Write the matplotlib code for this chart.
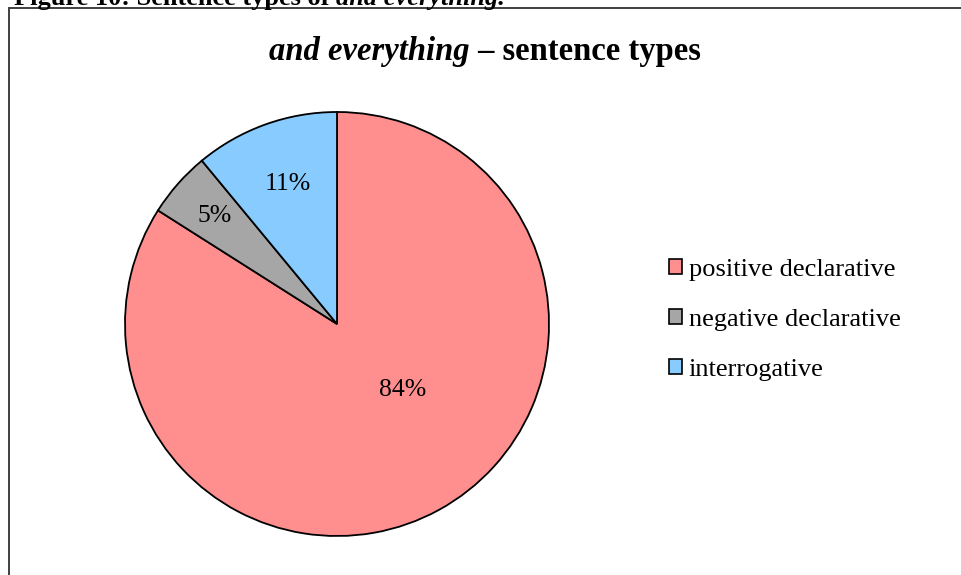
import numpy as np
import matplotlib
matplotlib.use("Agg")
import matplotlib.pyplot as plt
from matplotlib.patches import Rectangle, Patch

plt.rcParams["font.family"] = ["Liberation Serif", "DejaVu Serif"]

categories = ["positive declarative", "negative declarative", "interrogative"]
shares = [84, 5, 11]
colors = ["#FF8F8F", "#A6A6A6", "#87CBFF"]
# label placement per wedge: (distance from centre, angular shift in degrees)
label_place = [(0.44, 16.0), (0.77, 0.0), (0.70, -0.5)]

W, H = 961, 575
fig = plt.figure(figsize=(W / 100, H / 100), dpi=100)

# chart frame (extends past right and bottom edges)
fig.patches.append(Rectangle((9 / W, -0.1), 1.2, (H - 8) / H + 0.1,
                             transform=fig.transFigure, fill=False,
                             edgecolor="#404040", linewidth=1.4))

# caption above the frame, partly cut off
cap1 = fig.text(14 / W, 1 - 5 / H, "Figure 10: Sentence types of ", fontsize=19,
                fontweight="bold", va="baseline", ha="left")
fig.canvas.draw()
r = fig.canvas.get_renderer()
bb = cap1.get_window_extent(r)
fig.text(bb.x1 / W, 1 - 5 / H, "and everything.", fontsize=19, fontweight="bold",
         style="italic", va="baseline", ha="left")

# title: italic phrase followed by bold description, centred
t1 = fig.text(0, 1 - 60 / H, "and everything", fontsize=23.5, fontweight="bold",
              style="italic", va="baseline", ha="left")
t2 = fig.text(0, 1 - 60 / H, " \u2013 sentence types", fontsize=23.5,
              fontweight="bold", va="baseline", ha="left")
fig.canvas.draw()
w1 = t1.get_window_extent(r).width
w2 = t2.get_window_extent(r).width
x0 = 485 - (w1 + w2) / 2
t1.set_x(x0 / W)
t2.set_x((x0 + w1) / W)

# pie axes: centre (337, 324) px, radius 212 px
R = 212
cx, cy = 337, H - 324
lim = 1.2
side = 2 * lim * R
ax = fig.add_axes([(cx - side / 2) / W, (cy - side / 2) / H, side / W, side / H])
wedges, _ = ax.pie(shares, colors=colors, startangle=90, counterclock=False,
                   wedgeprops=dict(edgecolor="black", linewidth=1.3))
ax.set_xlim(-lim, lim)
ax.set_ylim(-lim, lim)
ax.set_aspect("equal")
ax.axis("off")

for w, val, (d, shift) in zip(wedges, shares, label_place):
    ang = np.deg2rad((w.theta1 + w.theta2) / 2 + shift)
    ax.text(d * np.cos(ang), d * np.sin(ang), f"{val}%", fontsize=18.5,
            ha="center", va="center")

handles = [Patch(facecolor=c, edgecolor="black", linewidth=1.2) for c in colors]
fig.legend(handles, categories, loc="center left",
           bbox_to_anchor=(669 / W, 1 - 320 / H), frameon=False, fontsize=19,
           handlelength=0.5, handleheight=0.5, handletextpad=0.25,
           labelspacing=1.05, borderaxespad=0, borderpad=0)

fig.savefig("out.png", dpi=100)
